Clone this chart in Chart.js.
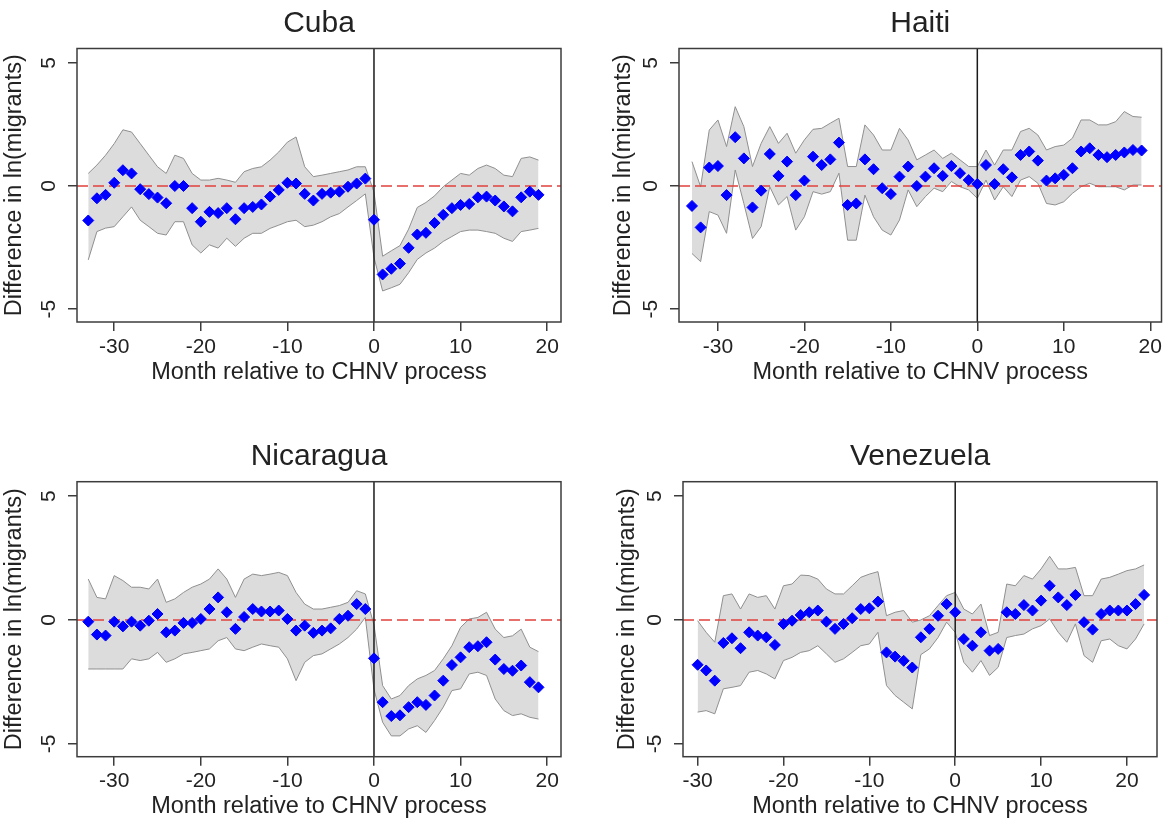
<!DOCTYPE html>
<html>
<head>
<meta charset="utf-8">
<script src="https://cdn.jsdelivr.net/npm/chart.js@4.4.1/dist/chart.umd.min.js"></script>
<style>
  body { margin: 0; background: #fff; }
  .panel { position: absolute; width: 584px; height: 411px; }
</style>
</head>
<body>
<div class="panel" style="left:0;top:0"><canvas id="cuba" width="584" height="411"></canvas></div>
<div class="panel" style="left:584px;top:0"><canvas id="haiti" width="584" height="411"></canvas></div>
<div class="panel" style="left:0;top:411px"><canvas id="nicaragua" width="584" height="411"></canvas></div>
<div class="panel" style="left:584px;top:411px"><canvas id="venezuela" width="584" height="411"></canvas></div>
<script>
// months relative to the CHNV process
const monthsCHN = [-33, -32, -31, -30, -29, -28, -27, -26, -25, -24, -23, -22, -21, -20, -19, -18, -17, -16, -15, -14, -13, -12, -11, -10, -9, -8, -7, -6, -5, -4, -3, -2, -1, 0, 1, 2, 3, 4, 5, 6, 7, 8, 9, 10, 11, 12, 13, 14, 15, 16, 17, 18, 19];
const monthsVen = [-30, -29, -28, -27, -26, -25, -24, -23, -22, -21, -20, -19, -18, -17, -16, -15, -14, -13, -12, -11, -10, -9, -8, -7, -6, -5, -4, -3, -2, -1, 0, 1, 2, 3, 4, 5, 6, 7, 8, 9, 10, 11, 12, 13, 14, 15, 16, 17, 18, 19, 20, 21, 22];

const xTickValues = [-30, -20, -10, 0, 10, 20];
const yTickValues = [-5, 0, 5];

// Cuba
const cubaEst = [-1.40, -0.50, -0.36, 0.13, 0.64, 0.51, -0.13, -0.33, -0.47, -0.70, 0.00, 0.00, -0.90, -1.45, -1.05, -1.10, -0.90, -1.35, -0.90, -0.85, -0.75, -0.43, -0.16, 0.13, 0.10, -0.32, -0.59, -0.32, -0.27, -0.23, -0.03, 0.10, 0.30, -1.37, -3.59, -3.36, -3.15, -2.51, -1.97, -1.90, -1.50, -1.17, -0.90, -0.77, -0.73, -0.46, -0.43, -0.59, -0.83, -1.03, -0.46, -0.23, -0.36];
const cubaHi = [0.51, 0.85, 1.25, 1.72, 2.28, 2.19, 1.72, 1.25, 0.78, 0.51, 1.25, 1.12, 0.51, 0.24, 0.24, 0.31, 0.24, 0.15, 0.58, 0.71, 0.78, 1.05, 1.38, 1.78, 1.99, 0.78, 0.38, 0.44, 0.51, 0.58, 0.65, 0.78, 0.78, -0.25, -2.85, -2.63, -2.42, -1.75, -0.87, -0.67, -0.40, -0.03, 0.24, 0.51, 0.44, 0.71, 0.85, 0.71, 0.44, 0.38, 1.12, 1.18, 1.05];
const cubaLo = [-3.00, -1.85, -1.71, -1.65, -1.25, -0.85, -1.39, -1.65, -1.92, -1.99, -1.45, -1.45, -2.39, -2.72, -2.39, -2.52, -2.12, -2.45, -2.12, -1.92, -1.92, -1.72, -1.59, -1.45, -1.39, -1.65, -1.59, -1.45, -1.25, -1.12, -0.85, -0.59, -0.32, -2.90, -4.26, -4.13, -3.99, -3.52, -2.98, -2.72, -2.52, -2.25, -2.05, -1.85, -1.79, -1.79, -1.85, -1.92, -2.12, -2.25, -1.85, -1.79, -1.72];

// Haiti
const haitiEst = [-0.81, -1.68, 0.75, 0.81, -0.37, 1.98, 1.12, -0.87, -0.19, 1.30, 0.41, 0.99, -0.37, 0.22, 1.19, 0.85, 1.08, 1.76, -0.77, -0.71, 1.08, 0.68, -0.09, -0.33, 0.38, 0.79, 0.00, 0.38, 0.72, 0.41, 0.81, 0.52, 0.24, 0.08, 0.85, 0.08, 0.68, 0.35, 1.26, 1.40, 1.03, 0.22, 0.31, 0.45, 0.72, 1.40, 1.53, 1.26, 1.17, 1.26, 1.36, 1.46, 1.44];
const haitiHi = [0.99, -0.03, 2.27, 2.68, 1.60, 3.22, 2.41, 0.79, 1.73, 2.41, 1.73, 2.14, 1.33, 1.87, 2.30, 2.34, 2.55, 2.75, 0.79, 0.79, 2.48, 2.07, 1.46, 1.46, 2.34, 1.87, 1.06, 1.26, 1.46, 1.12, 1.33, 1.06, 0.79, 0.79, 1.46, 0.85, 1.46, 1.46, 2.21, 2.34, 2.07, 1.46, 1.60, 1.66, 1.94, 2.68, 2.68, 2.48, 2.48, 2.61, 3.02, 2.82, 2.79];
const haitiLo = [-2.74, -3.07, -1.04, -1.18, -1.92, 0.65, -0.71, -2.13, -1.65, -0.03, -0.77, -0.43, -1.79, -1.25, -0.23, -0.33, -0.23, 0.52, -2.20, -2.20, -0.37, -1.25, -1.79, -1.99, -1.38, -0.16, -0.84, -0.43, -0.09, -0.23, 0.18, -0.03, -0.16, -0.50, 0.24, -0.57, -0.03, -0.43, 0.24, 0.38, 0.11, -0.71, -0.77, -0.64, -0.30, -0.03, 0.11, -0.03, -0.03, -0.03, -0.16, 0.04, 0.04];

// Nicaragua
const nicaraguaEst = [-0.07, -0.59, -0.63, -0.07, -0.26, -0.07, -0.23, -0.03, 0.24, -0.50, -0.43, -0.12, -0.12, 0.04, 0.44, 0.91, 0.31, -0.36, 0.12, 0.44, 0.34, 0.34, 0.38, 0.04, -0.43, -0.23, -0.52, -0.43, -0.34, 0.04, 0.17, 0.64, 0.44, -1.55, -3.32, -3.88, -3.85, -3.52, -3.32, -3.43, -3.05, -2.45, -1.82, -1.51, -1.10, -1.06, -0.90, -1.60, -1.98, -2.05, -1.84, -2.51, -2.72];
const nicaraguaHi = [1.65, 0.91, 0.85, 1.79, 1.59, 1.32, 1.32, 1.25, 1.65, 0.71, 0.85, 1.11, 1.32, 1.45, 1.65, 2.06, 1.65, 0.91, 1.65, 1.85, 1.79, 1.85, 1.92, 1.79, 1.11, 0.64, 0.44, 0.44, 0.51, 0.58, 0.71, 1.18, 1.05, -0.20, -2.65, -3.19, -3.05, -2.65, -2.38, -2.24, -2.04, -1.57, -1.04, -0.30, 0.04, 0.10, 0.31, -0.37, -0.71, -0.64, -0.37, -1.10, -1.28];
const nicaraguaLo = [-1.98, -1.98, -1.98, -1.98, -1.98, -1.57, -1.64, -1.57, -1.31, -1.71, -1.57, -1.37, -1.31, -1.24, -1.17, -0.84, -0.71, -1.17, -1.24, -1.10, -0.97, -1.04, -1.10, -1.57, -2.45, -1.71, -1.44, -1.37, -1.17, -0.97, -0.71, -0.37, 0.10, -2.80, -4.13, -4.68, -4.68, -4.40, -4.27, -4.54, -4.06, -3.52, -2.85, -2.78, -2.18, -2.11, -2.24, -3.19, -3.66, -3.86, -3.79, -3.93, -4.00];

// Venezuela
const venezuelaEst = [-1.81, -2.04, -2.45, -0.93, -0.74, -1.14, -0.50, -0.63, -0.70, -1.01, -0.16, -0.03, 0.20, 0.31, 0.38, -0.07, -0.36, -0.16, 0.07, 0.44, 0.47, 0.74, -1.31, -1.48, -1.65, -1.92, -0.70, -0.36, 0.17, 0.64, 0.31, -0.77, -1.04, -0.50, -1.24, -1.17, 0.31, 0.24, 0.60, 0.38, 0.78, 1.38, 0.91, 0.60, 1.01, -0.09, -0.39, 0.24, 0.38, 0.38, 0.38, 0.64, 1.01];
const venezuelaHi = [-0.03, -0.50, -0.90, 0.98, 1.05, 0.44, 1.05, 0.91, 0.98, 0.44, 1.38, 1.45, 1.81, 1.79, 1.65, 1.25, 1.05, 1.05, 1.38, 1.72, 1.85, 1.95, 0.17, 0.31, 0.38, -0.09, 0.00, 0.17, 0.58, 0.98, 1.11, 0.44, 0.24, 0.64, -0.63, -0.50, 1.45, 1.38, 1.79, 1.65, 2.06, 2.57, 2.06, 2.06, 2.12, 0.98, 0.98, 1.65, 1.72, 1.85, 1.99, 2.06, 2.22];
const venezuelaLo = [-3.72, -3.66, -3.79, -2.78, -2.72, -2.65, -2.11, -2.04, -2.18, -2.38, -1.64, -1.51, -1.31, -1.24, -1.04, -1.37, -1.71, -1.57, -1.31, -1.04, -0.97, -0.50, -2.65, -3.05, -3.32, -3.59, -1.40, -1.17, -0.71, -0.09, -0.50, -1.71, -2.11, -1.64, -2.24, -1.91, -0.71, -0.63, -0.57, -0.36, -0.23, 0.04, -0.50, -0.90, -0.16, -1.44, -1.71, -0.84, -0.77, -1.04, -1.17, -0.77, -0.16];

const FONT = '"Liberation Sans", Arial, Helvetica, sans-serif';
const TEXT = '#222';
const AXIS = '#3c3c3c';
const Y_MIN = -5.52, Y_MAX = 5.58;

// draws the closed box round the plot region
const framePlugin = {
  id: 'frame',
  afterDatasetsDraw(chart) {
    const a = chart.chartArea;
    const ctx = chart.ctx;
    ctx.save();
    ctx.strokeStyle = AXIS;
    ctx.lineWidth = 1.5;
    ctx.strokeRect(a.left, a.top, a.right - a.left, a.bottom - a.top);
    ctx.restore();
  }
};

function xy(xs, ys) {
  return xs.map((x, i) => ({ x: x, y: ys[i] }));
}

function makePanel(id, title, months, est, lo, hi, box) {
  const ctx = document.getElementById(id).getContext('2d');
  return new Chart(ctx, {
    type: 'scatter',
    data: {
      datasets: [
        {
          type: 'line', data: xy(months, hi), fill: '+1',
          backgroundColor: '#dcdcdc', borderColor: '#8f8f8f', borderWidth: 1,
          pointRadius: 0, tension: 0, order: 5
        },
        {
          type: 'line', data: xy(months, lo), fill: false,
          borderColor: '#8f8f8f', borderWidth: 1,
          pointRadius: 0, tension: 0, order: 4
        },
        {
          type: 'line', data: [{ x: box.xmin, y: 0 }, { x: box.xmax, y: 0 }],
          borderColor: '#e0403c', borderWidth: 1.5, borderDash: [11, 5],
          pointRadius: 0, fill: false, order: 3
        },
        {
          type: 'line', data: [{ x: 0, y: Y_MIN }, { x: 0, y: Y_MAX }],
          borderColor: '#1a1a1a', borderWidth: 1.5,
          pointRadius: 0, fill: false, order: 2
        },
        {
          data: xy(months, est), pointStyle: 'rectRot', pointRadius: 5.5,
          backgroundColor: '#0000ff', borderColor: '#0000ff', borderWidth: 1, order: 1
        }
      ]
    },
    options: {
      responsive: false,
      animation: false,
      layout: { padding: { left: 0, right: 584 - box.right, top: 0, bottom: 0 } },
      plugins: {
        legend: { display: false },
        tooltip: { enabled: false },
        title: {
          display: true,
          text: title,
          fullSize: false,
          color: TEXT,
          font: { family: FONT, size: 30, weight: 'normal' },
          padding: { top: box.titleTop, bottom: box.top - box.titleTop - 36 }
        }
      },
      scales: {
        x: {
          type: 'linear',
          min: box.xmin,
          max: box.xmax,
          afterBuildTicks: (s) => { s.ticks = xTickValues.map(v => ({ value: v })); },
          afterFit: (s) => { s.height = 411 - box.bottom; },
          border: { display: false },
          grid: { display: true, drawOnChartArea: false, drawTicks: true, tickLength: 9, color: AXIS, lineWidth: 1.5 },
          ticks: { font: { family: FONT, size: 21 }, color: TEXT, padding: 3.4, maxRotation: 0, autoSkip: false },
          title: {
            display: true,
            text: 'Month relative to CHNV process',
            color: TEXT,
            font: { family: FONT, size: 23.5 },
            padding: { top: 0, bottom: box.xTitleBottom }
          }
        },
        y: {
          type: 'linear',
          min: Y_MIN,
          max: Y_MAX,
          afterBuildTicks: (s) => { s.ticks = yTickValues.map(v => ({ value: v })); },
          afterFit: (s) => { s.width = box.left; },
          border: { display: false },
          grid: { display: true, drawOnChartArea: false, drawTicks: true, tickLength: 9, color: AXIS, lineWidth: 1.5 },
          ticks: {
            font: { family: FONT, size: 21 }, color: TEXT, padding: 9.7,
            minRotation: 90, maxRotation: 90, crossAlign: 'center', autoSkip: false
          },
          title: {
            display: true,
            text: 'Difference in ln(migrants)',
            color: TEXT,
            font: { family: FONT, size: 23.5 },
            padding: { top: box.yTitleLeft, bottom: 0 }
          }
        }
      }
    },
    plugins: [framePlugin]
  });
}

makePanel('cuba', 'Cuba', monthsCHN, cubaEst, cubaLo, cubaHi,
  { left: 77, right: 561, top: 48.5, bottom: 322, xmin: -34.3, xmax: 21.6, titleTop: 5.3, xTitleBottom: 23.9, yTitleLeft: 0 });
makePanel('haiti', 'Haiti', monthsCHN, haitiEst, haitiLo, haitiHi,
  { left: 95, right: 578, top: 48.5, bottom: 322, xmin: -34.5, xmax: 21.3, titleTop: 5.3, xTitleBottom: 23.9, yTitleLeft: 25 });
makePanel('nicaragua', 'Nicaragua', monthsCHN, nicaraguaEst, nicaraguaLo, nicaraguaHi,
  { left: 77, right: 561, top: 70.7, bottom: 345.7, xmin: -34.3, xmax: 21.6, titleTop: 27.7, xTitleBottom: 1.2, yTitleLeft: 0 });
makePanel('venezuela', 'Venezuela', monthsVen, venezuelaEst, venezuelaLo, venezuelaHi,
  { left: 99, right: 573, top: 70.7, bottom: 345.7, xmin: -31.7, xmax: 23.5, titleTop: 27.7, xTitleBottom: 1.2, yTitleLeft: 29 });
</script>
</body>
</html>
